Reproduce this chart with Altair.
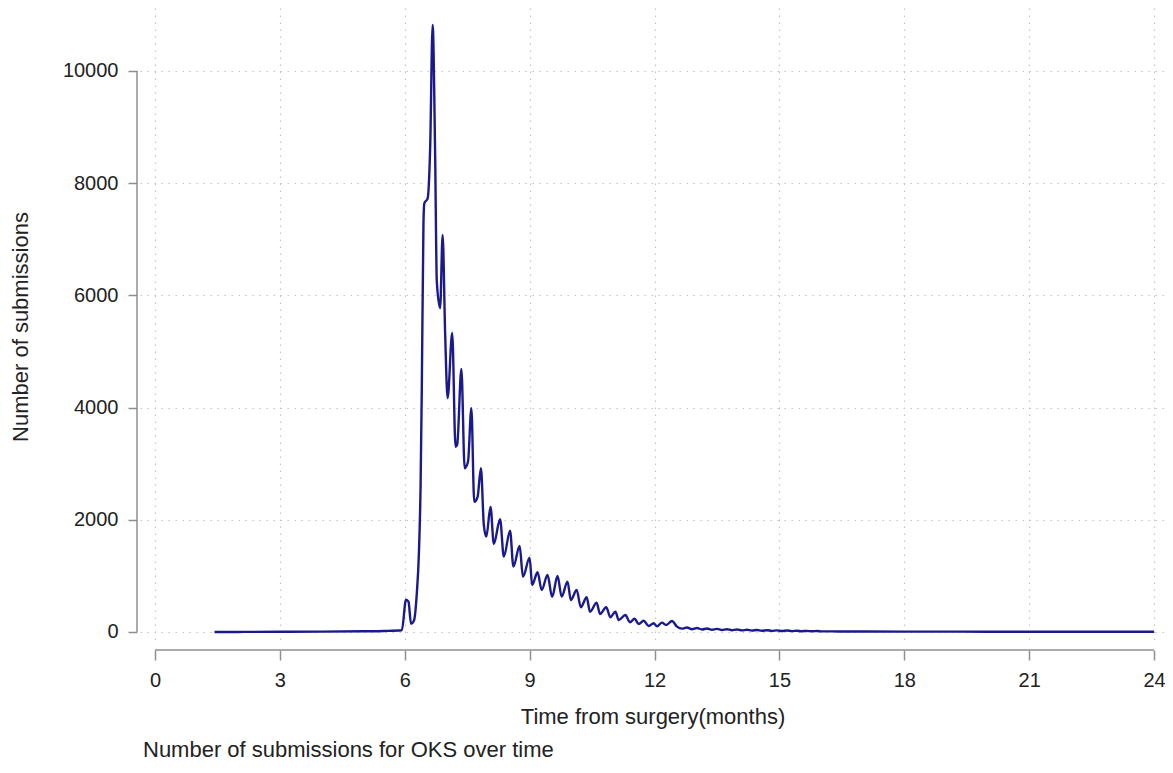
import altair as alt
import pandas as pd

# ---- data ----
months = [
    1.43, 2.0, 3.0, 4.0, 5.0, 5.5, 5.93, 6.03, 6.09, 6.15, 6.22, 6.29, 6.34, 6.38, 6.41,
    6.45, 6.47, 6.55, 6.61, 6.67, 6.73, 6.77, 6.85, 6.91, 6.97, 7.03, 7.14, 7.22, 7.26,
    7.36, 7.44, 7.52, 7.60, 7.67, 7.75, 7.83, 7.90, 7.96, 8.06, 8.14, 8.29, 8.38, 8.53,
    8.61, 8.76, 8.84, 9.00, 9.06, 9.19, 9.29, 9.43, 9.54, 9.67, 9.77, 9.91, 9.99, 10.13,
    10.23, 10.37, 10.45, 10.61, 10.69, 10.84, 10.94, 11.06, 11.14, 11.30, 11.41, 11.52,
    11.62, 11.74, 11.86, 11.98, 12.06, 12.18, 12.28, 12.42, 12.54, 12.66, 12.78, 12.90,
    13.02, 13.14, 13.26, 13.38, 13.50, 13.62, 13.74, 13.86, 13.98, 14.10, 14.22, 14.34,
    14.46, 14.58, 14.70, 14.82, 14.94, 15.06, 15.18, 15.30, 15.42, 15.54, 15.66, 15.78,
    15.90, 16.02, 16.30, 17.0, 18.0, 19.0, 20.0, 21.0, 22.0, 23.0, 24.0,
]
submissions = [
    0, 1, 3, 6, 12, 18, 30, 575, 540, 148, 200, 693, 1404, 2590, 4370,
    7313, 7640, 7730, 8620, 10820, 8500, 6245, 5775, 7077, 5330, 4170, 5330, 3300, 3340,
    4690, 2920, 3040, 3990, 2320, 2410, 2920, 1907, 1700, 2230, 1570, 2010, 1343, 1806,
    1165, 1533, 986, 1325, 838, 1064, 749, 1016, 625, 998, 630, 897, 570, 749,
    440, 618, 362, 523, 321, 440, 262, 362, 214, 303, 173, 237,
    143, 201, 107, 155, 100, 166, 125, 196, 95, 60, 80, 50,
    70, 45, 62, 40, 55, 35, 50, 32, 45, 28, 40, 25,
    36, 22, 32, 20, 28, 18, 26, 16, 23, 14, 20, 12,
    17, 10, 10, 8, 7, 6, 5, 5, 4, 4, 4,
]
x_ticks = [0, 3, 6, 9, 12, 15, 18, 21, 24]
y_ticks = [0, 2000, 4000, 6000, 8000, 10000]
x_title = "Time from surgery(months)"
y_title = "Number of submissions"
caption = "Number of submissions for OKS over time"

df = pd.DataFrame({"month": months, "subs": submissions})
x_axis_span = pd.DataFrame({"month": [x_ticks[0]], "month_end": [x_ticks[-1]]})
y_axis_span = pd.DataFrame({"subs": [y_ticks[0]], "subs_end": [y_ticks[-1]]})

# ---- layout / style ----
W, H = 1025, 637
FONT = "Liberation Sans"
AXIS_GRAY = "#8f8f8f"
GRID_GRAY = "#c4c4c4"
TEXT = "#222222"
LINE = "#1a1a8e"
X_OFF, Y_OFF = 5, 3

xs = alt.Scale(domain=[-0.3604, 24.264], nice=False, zero=False)
ys = alt.Scale(domain=[-232, 11123], nice=False, zero=False)

x_axis = alt.Axis(
    values=x_ticks, format="d", title=x_title, offset=X_OFF, domain=False,
    tickSize=10, tickColor=AXIS_GRAY, tickWidth=1.5,
    grid=True, gridColor=GRID_GRAY, gridDash=[1.5, 5.5], gridWidth=1.2,
    labelFont=FONT, labelFontSize=20, labelColor=TEXT, labelPadding=10,
    titleFont=FONT, titleFontSize=22, titleFontWeight="normal", titleColor=TEXT,
    titlePadding=16,
)
y_axis = alt.Axis(
    values=y_ticks, format="d", title=y_title, offset=Y_OFF, domain=False,
    tickSize=9, tickColor=AXIS_GRAY, tickWidth=1.5,
    grid=True, gridColor=GRID_GRAY, gridDash=[1.5, 5.5], gridWidth=1.2,
    labelFont=FONT, labelFontSize=20, labelColor=TEXT, labelPadding=10,
    titleFont=FONT, titleFontSize=22, titleFontWeight="normal", titleColor=TEXT,
    titleAngle=-90, titleAlign="center", titleBaseline="alphabetic",
    titleX=-110, titleY=H / 2,
)

line = alt.Chart(df).mark_line(
    color=LINE, strokeWidth=2.4, interpolate="monotone"
).encode(
    x=alt.X("month:Q", scale=xs, axis=x_axis, title=x_title),
    y=alt.Y("subs:Q", scale=ys, axis=y_axis, title=y_title),
)

x_domain = alt.Chart(x_axis_span).mark_rule(color=AXIS_GRAY, strokeWidth=1.5).encode(
    x=alt.X("month:Q", scale=xs, axis=x_axis, title=x_title),
    x2="month_end:Q",
    y=alt.value(H + X_OFF),
)
y_domain = alt.Chart(y_axis_span).mark_rule(color=AXIS_GRAY, strokeWidth=1.5).encode(
    y=alt.Y("subs:Q", scale=ys, axis=y_axis, title=y_title),
    y2="subs_end:Q",
    x=alt.value(-Y_OFF),
)

chart = alt.layer(line, x_domain, y_domain).properties(
    width=W,
    height=H,
    autosize=alt.AutoSizeParams(type="none"),
    padding={"left": 132, "top": 0, "right": 0, "bottom": 116},
    title=alt.TitleParams(
        text=caption, orient="bottom", anchor="start", frame="group",
        baseline="alphabetic",
        font=FONT, fontSize=22, fontWeight="normal", color=TEXT, offset=30, dx=3,
    ),
).configure(background="white").configure_view(stroke=None)

chart.save("out.html", embed_options={"renderer": "svg", "actions": False})
